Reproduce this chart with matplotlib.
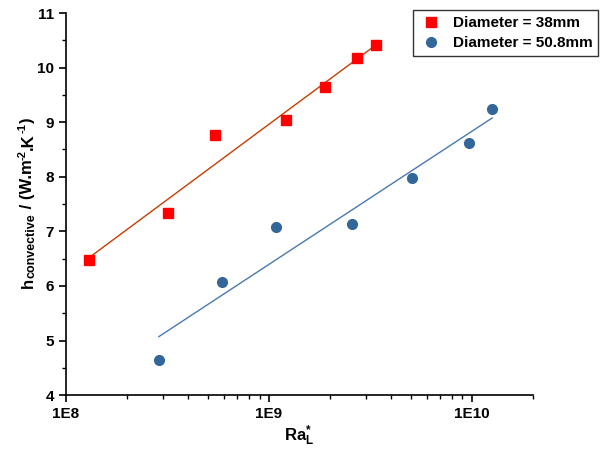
import numpy as np
import matplotlib.pyplot as plt
from matplotlib import transforms
from matplotlib.ticker import FixedLocator, NullFormatter, MultipleLocator

plt.rcParams['font.family'] = ['Liberation Sans', 'DejaVu Sans']
plt.rcParams['font.weight'] = 'bold'
plt.rcParams['axes.labelweight'] = 'bold'
plt.rcParams['mathtext.fontset'] = 'custom'
plt.rcParams['mathtext.rm'] = 'Liberation Sans:weight=bold'
plt.rcParams['mathtext.it'] = 'Liberation Sans:weight=bold'
plt.rcParams['mathtext.bf'] = 'Liberation Sans:weight=bold'
plt.rcParams['mathtext.default'] = 'bf'

# data
ra_38 = [1.30e8, 3.18e8, 5.42e8, 1.21e9, 1.89e9, 2.71e9, 3.37e9]
h_38 = [6.47, 7.33, 8.76, 9.04, 9.64, 10.17, 10.41]
ra_508 = [2.87e8, 5.87e8, 1.08e9, 2.56e9, 5.06e9, 9.67e9, 1.26e10]
h_508 = [4.64, 6.07, 7.08, 7.13, 7.97, 8.62, 9.24]

fig = plt.figure(figsize=(6, 4.5), dpi=100)
ax = fig.add_axes([0.11, 0.122, 0.778, 0.849])

# linear fits of h against log10(Ra)
for xs, ys, lc in [(ra_38, h_38, '#c83c00'), (ra_508, h_508, '#4a78b0')]:
    lx = np.log10(xs)
    k, b = np.polyfit(lx, ys, 1)
    xx = np.array([lx[0], lx[-1]])
    ax.plot(10 ** xx, k * xx + b, color=lc, lw=1.0, zorder=2)

ax.plot(ra_38, h_38, 's', color='#ff0000', ms=6.5, mec='#ff0000', ls='none',
        label='Diameter = 38mm', zorder=3)
ax.plot(ra_508, h_508, 'o', color='#336699', ms=7, mec='#336699', ls='none',
        label='Diameter = 50.8mm', zorder=3)

ax.set_xscale('log')
ax.set_xlim(1e8, 2e10)
ax.set_ylim(4, 11)
ax.set_xticks([1e8, 1e9, 1e10])
ax.set_xticklabels(['1E8', '1E9', '1E10'])
minors = [m * 10 ** e for e in (8, 9) for m in range(2, 10)] + [2e10]
ax.xaxis.set_minor_locator(FixedLocator(minors))
ax.xaxis.set_minor_formatter(NullFormatter())
ax.yaxis.set_major_locator(MultipleLocator(1))
ax.yaxis.set_minor_locator(MultipleLocator(0.5))

ax.spines['top'].set_visible(False)
ax.spines['right'].set_visible(False)
for s in ('left', 'bottom'):
    ax.spines[s].set_linewidth(1.2)
ax.tick_params(which='major', direction='out', length=5, width=1.2, labelsize=11)
ax.tick_params(which='minor', direction='out', length=3, width=1.0)

ax.set_xlabel(r'Ra$^{*}_{L}$', fontsize=12, labelpad=2)

# y label built from pieces so the subscript can stay large
pieces = [('h', 12, 0), ('convective', 9, 2.5), (' / (W.m', 12, 0),
          ('-2', 8, -7), ('.K', 12, 0), ('-1', 8, -7), (')', 12, 0)]
renderer = fig.canvas.get_renderer()
base = fig.transFigure
for s, size, dx in pieces:
    t = fig.text(0.054, 0.36, s, fontsize=size, fontweight='bold', rotation=90,
                 rotation_mode='anchor', ha='left', va='baseline',
                 transform=transforms.offset_copy(base, fig=fig, x=dx, y=0, units='dots'))
    ex = t.get_window_extent(renderer)
    base = transforms.offset_copy(base, fig=fig, x=0, y=ex.height, units='dots')

leg = fig.legend(loc='upper left', bbox_to_anchor=(0.688, 0.978), fontsize=11,
                 frameon=True, fancybox=False, edgecolor='black', borderaxespad=0,
                 handletextpad=0.6, borderpad=0.4, labelspacing=0.4, handlelength=1.6)
leg.get_frame().set_linewidth(1.0)

fig.savefig('out.png', dpi=100)
